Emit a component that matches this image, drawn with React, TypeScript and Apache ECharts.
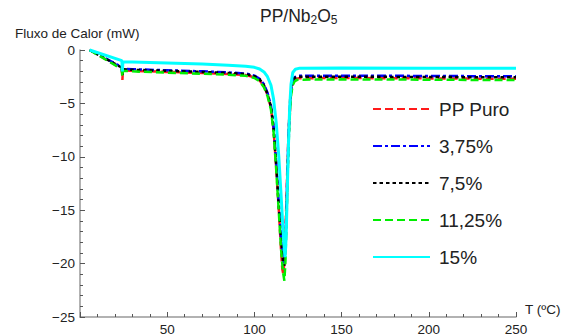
import React, { useEffect, useRef } from "react";
import * as echarts from "echarts";

const seriesNames = ["PP Puro", "3,75%", "7,5%", "11,25%", "15%"];

const ppPuro: number[][] = [
  [5.5, 0], [24, -1.75], [24.3, -2.8], [24.6, -1.9], [30, -1.95], [50, -2.05], [70, -2.15], [85, -2.25], [95, -2.35],
  [100, -2.55], [103, -2.85], [105.5, -3.4], [107.5, -4.2], [109.5, -5.4], [111, -7.5], [112.5, -11], [114, -15],
  [115.2, -18.5], [116, -20.5], [116.6, -21.0], [117.3, -19.5], [118, -16], [118.8, -11.5], [119.6, -7.5], [120.5, -4.6],
  [121.5, -3.3], [122.8, -2.8], [125, -2.65], [150, -2.62], [200, -2.66], [250, -2.7],
];
const nb375: number[][] = [
  [5.5, 0], [24, -1.6], [24.3, -2.3], [24.6, -1.75], [30, -1.8], [50, -1.9], [70, -2.0], [85, -2.1], [95, -2.2],
  [100, -2.4], [103, -2.7], [105.5, -3.2], [107.5, -4.0], [109.5, -5.2], [111, -7.2], [112.5, -10.5], [114, -14.4],
  [115.3, -17.6], [116.3, -19.5], [117, -20.1], [117.6, -18.8], [118.3, -15.2], [119, -11], [119.8, -7], [120.7, -4.3],
  [121.7, -3.0], [123, -2.55], [125, -2.42], [150, -2.4], [200, -2.43], [250, -2.47],
];
const nb75: number[][] = [
  [5.5, 0], [24, -1.65], [24.3, -2.4], [24.6, -1.8], [30, -1.85], [50, -1.95], [70, -2.05], [85, -2.15], [95, -2.25],
  [100, -2.45], [103, -2.75], [105.5, -3.3], [107.5, -4.1], [109.5, -5.3], [111, -7.3], [112.5, -10.7], [114, -14.6],
  [115.4, -17.9], [116.4, -19.7], [117.2, -20.2], [117.8, -18.6], [118.5, -14.8], [119.2, -10.6], [120, -6.8], [120.9, -4.2],
  [121.9, -3.0], [123.2, -2.6], [125, -2.5], [150, -2.5], [200, -2.53], [250, -2.56],
];
const nb1125: number[][] = [
  [5.5, 0], [24, -1.8], [24.3, -2.5], [24.6, -1.95], [30, -2.0], [50, -2.12], [70, -2.22], [85, -2.32], [95, -2.42],
  [100, -2.62], [103, -2.92], [105.5, -3.5], [107.5, -4.3], [109.5, -5.6], [111, -7.7], [112.5, -11.2], [114, -15.2],
  [115.3, -18.7], [116.4, -20.8], [117.2, -21.6], [117.8, -19.8], [118.5, -15.5], [119.2, -11], [120, -7], [120.9, -4.4],
  [121.9, -3.3], [123.2, -2.9], [125, -2.78], [150, -2.75], [200, -2.78], [250, -2.82],
];
const nb15: number[][] = [
  [5.5, 0], [24, -1.0], [24.3, -2.0], [24.6, -1.1], [30, -1.12], [50, -1.22], [70, -1.32], [85, -1.42], [95, -1.52],
  [100, -1.62], [103, -1.78], [105.5, -2.05], [107.5, -2.5], [109.5, -3.3], [111, -4.6], [112.5, -6.8], [114, -10],
  [115.3, -13.6], [116.4, -16.8], [117.2, -18.8], [117.6, -19.4], [118.2, -17.5], [118.8, -13.5], [119.5, -9], [120.2, -5.5],
  [121, -3.2], [122, -2.1], [123.5, -1.8], [126, -1.7], [150, -1.68], [200, -1.7], [250, -1.72],
];

const seriesData = [ppPuro, nb375, nb75, nb1125, nb15];
const colors = ["#ff1a1a", "#0000ff", "#000000", "#00ee00", "#00ffff"];
const dashes: any[] = [[8, 4], [9, 3, 3, 3], [3.5, 3], [8, 4], "solid"];
const widths = [2.5, 2.5, 2.5, 2.5, 3];

const xMin = 0, xMax = 250, xInterval = 50;
const yMin = -25, yMax = 0, yInterval = 5;

export default function App() {
  const ref = useRef<HTMLDivElement>(null);
  useEffect(() => {
    if (!ref.current) return;
    const chart = echarts.init(ref.current, null, { renderer: "svg" });
    const fontFamily = "'Liberation Sans', Arial, sans-serif";
    chart.setOption({
      animation: false,
      textStyle: { fontFamily },
      title: {
        text: "PP/Nb{s|2}O{s|5}",
        left: 255,
        top: 0,
        textStyle: {
          fontSize: 17.5,
          fontWeight: "normal",
          color: "#222",
          fontFamily,
          rich: { s: { fontSize: 12, color: "#222", padding: [9, 0, 0, 0], fontFamily } },
        },
      },
      grid: { left: 80, right: 56, top: 50, bottom: 19, containLabel: false },
      legend: {
        orient: "vertical",
        left: 367,
        top: 94,
        itemWidth: 57,
        itemHeight: 14,
        itemGap: 17,
        data: seriesNames,
        itemStyle: { opacity: 0 },
        textStyle: { fontSize: 19, color: "#222", lineHeight: 20, padding: [0, 0, 0, 4], fontFamily },
      },
      xAxis: {
        type: "value",
        min: xMin,
        max: xMax,
        interval: xInterval,
        name: "T (ºC)",
        nameLocation: "end",
        nameGap: 9,
        nameTextStyle: { fontSize: 13.5, color: "#222", verticalAlign: "bottom", lineHeight: 16, fontFamily },
        axisLine: { show: true, onZero: false, lineStyle: { color: "#999", width: 1.5 } },
        axisTick: { show: true, inside: true, length: 5, lineStyle: { color: "#555" } },
        minorTick: { show: true, splitNumber: 5, length: 3, lineStyle: { color: "#555" } },
        splitLine: { show: false },
        axisLabel: {
          fontSize: 13.5, color: "#222", margin: 5, fontFamily,
          formatter: (v: number) => (v === 0 ? "" : String(v)),
        },
      },
      yAxis: {
        type: "value",
        min: yMin,
        max: yMax,
        interval: yInterval,
        name: "Fluxo de Calor (mW)",
        nameLocation: "end",
        nameGap: 10,
        nameTextStyle: { fontSize: 13.5, color: "#222", align: "left", padding: [0, 0, 0, -65], fontFamily },
        axisLine: { show: true, onZero: false, lineStyle: { color: "#999", width: 1.5 } },
        axisTick: { show: true, inside: true, length: 5, lineStyle: { color: "#555" } },
        minorTick: { show: true, splitNumber: 5, length: 3, lineStyle: { color: "#555" } },
        splitLine: { show: false },
        axisLabel: {
          fontSize: 13.5, color: "#222", margin: 5, fontFamily,
          formatter: (v: number) => String(v).replace("-", "\u2212"),
        },
      },
      series: seriesNames.map((name, i) => ({
        name,
        type: "line",
        data: seriesData[i],
        showSymbol: false,
        symbol: "none",
        clip: false,
        color: colors[i],
        lineStyle: { color: colors[i], width: widths[i], type: dashes[i] },
      })),
    });
    return () => chart.dispose();
  }, []);
  return <div ref={ref} style={{ width: 572, height: 336, position: "absolute", left: 0, top: 0, background: "#fff" }} />;
}
